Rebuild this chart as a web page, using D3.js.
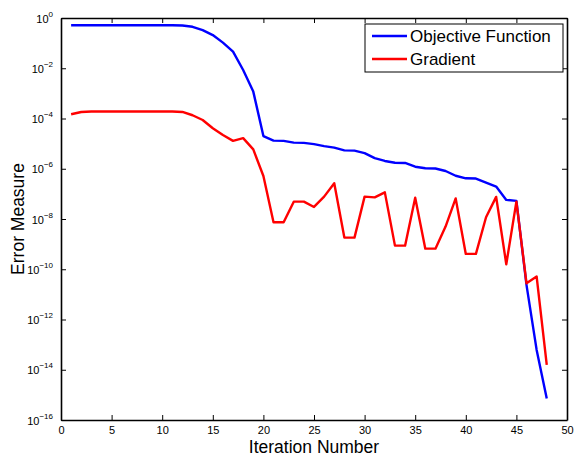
<!DOCTYPE html>
<html><head><meta charset="utf-8">
<script src="https://cdn.jsdelivr.net/npm/d3@7"></script>
<style>body{margin:0;background:#fff;} svg{display:block;font-family:"Liberation Sans",Arial,sans-serif;}</style>
</head><body>
<svg id="c" width="576" height="460"></svg>
<script>
const iterations = d3.range(1, 49);
// log10 of error values
const objectiveLog = [-0.29,-0.29,-0.29,-0.29,-0.29,-0.29,-0.29,-0.29,-0.29,-0.29,-0.29,-0.30,
  -0.35,-0.48,-0.68,-0.98,-1.34,-2.07,-2.93,-4.70,-4.88,-4.89,-4.96,-4.97,-5.02,-5.10,-5.16,-5.27,-5.28,-5.38,
  -5.58,-5.69,-5.76,-5.77,-5.92,-5.98,-5.99,-6.09,-6.28,-6.38,-6.39,-6.55,-6.71,-7.24,-7.28,-10.63,-13.21,-15.14];
const gradientLog = [-3.83,-3.74,-3.72,-3.72,-3.72,-3.72,-3.72,-3.72,-3.72,-3.72,-3.72,-3.74,
  -3.87,-4.06,-4.39,-4.66,-4.89,-4.78,-5.23,-6.29,-8.13,-8.13,-7.31,-7.31,-7.52,-7.11,-6.58,-8.74,-8.74,-7.11,
  -7.14,-6.94,-9.06,-9.06,-7.15,-9.18,-9.18,-8.30,-7.18,-9.39,-9.39,-7.93,-7.12,-9.80,-7.31,-10.56,-10.29,-13.81];
const xTicks = d3.range(0, 51, 5);
const yTickExps = [0,-2,-4,-6,-8,-10,-12,-14,-16];
const seriesNames = ["Objective Function", "Gradient"];
const seriesColors = ["#0000ff", "#ff0000"];

const svg = d3.select("#c");
const L = 61, R = 567, T = 18, B = 420;
const x = d3.scaleLinear().domain([0, 50]).range([L, R]);
const y = d3.scaleLog().domain([1e-16, 1]).range([B, T]);

const series = [objectiveLog, gradientLog].map((s, i) => ({
  name: seriesNames[i], color: seriesColors[i],
  pts: s.map((v, j) => [iterations[j], Math.pow(10, v)])
}));

const line = d3.line().x(d => x(d[0])).y(d => y(d[1]));
svg.append("g").selectAll("path").data(series).join("path")
  .attr("d", d => line(d.pts)).attr("fill", "none")
  .attr("stroke", d => d.color).attr("stroke-width", 2.4).attr("stroke-linejoin", "round");

// axes
const yTicks = yTickExps.map(e => Math.pow(10, e));
const gx = svg.append("g").attr("transform", `translate(0,${B})`)
  .call(d3.axisBottom(x).tickValues(xTicks).tickSizeInner(-5).tickSizeOuter(0).tickPadding(6));
const gxt = svg.append("g").attr("transform", `translate(0,${T})`)
  .call(d3.axisTop(x).tickValues(xTicks).tickSizeInner(-5).tickSizeOuter(0).tickFormat(""));
const gy = svg.append("g").attr("transform", `translate(${L},0)`)
  .call(d3.axisLeft(y).tickValues(yTicks).tickSizeInner(-5).tickSizeOuter(0).tickPadding(8).tickFormat(""));
const gyr = svg.append("g").attr("transform", `translate(${R},0)`)
  .call(d3.axisRight(y).tickValues(yTicks).tickSizeInner(-5).tickSizeOuter(0).tickFormat(""));
[gx, gxt, gy, gyr].forEach(g => {
  g.selectAll(".domain").attr("stroke", "#000").attr("stroke-width", 1.6);
  g.selectAll(".tick line").attr("stroke", "#000").attr("stroke-width", 1);
});
gx.selectAll(".tick text").attr("font-size", 11).attr("fill", "#000")
  .attr("font-family", "Liberation Sans, Arial, sans-serif");

// y tick labels with superscript
gy.selectAll(".tick").each(function(d) {
  const e = Math.round(Math.log10(d));
  const t = d3.select(this).append("text").attr("x", -8).attr("y", 4)
    .attr("text-anchor", "end").attr("fill", "#000").attr("font-size", 11)
    .attr("font-family", "Liberation Sans, Arial, sans-serif");
  t.append("tspan").text("10");
  t.append("tspan").attr("dy", -6).attr("font-size", 8).text(e === 0 ? "0" : "\u2212" + Math.abs(e));
});

// axis titles
svg.append("text").attr("x", (L + R) / 2).attr("y", 453).attr("text-anchor", "middle")
  .attr("font-size", 17.5).text("Iteration Number");
svg.append("text").attr("transform", `translate(24,${(T + B) / 2}) rotate(-90)`)
  .attr("text-anchor", "middle").attr("font-size", 17.5).text("Error Measure");

// legend
const lg = svg.append("g");
lg.append("rect").attr("x", 365).attr("y", 24).attr("width", 198).attr("height", 48)
  .attr("fill", "#fff").attr("stroke", "#000").attr("stroke-width", 1);
series.forEach((s, i) => {
  const yy = 36 + i * 23;
  lg.append("line").attr("x1", 372).attr("x2", 407).attr("y1", yy).attr("y2", yy)
    .attr("stroke", s.color).attr("stroke-width", 2.4);
  lg.append("text").attr("x", 410).attr("y", yy + 6).attr("font-size", 17).text(s.name);
});
</script>
</body></html>
